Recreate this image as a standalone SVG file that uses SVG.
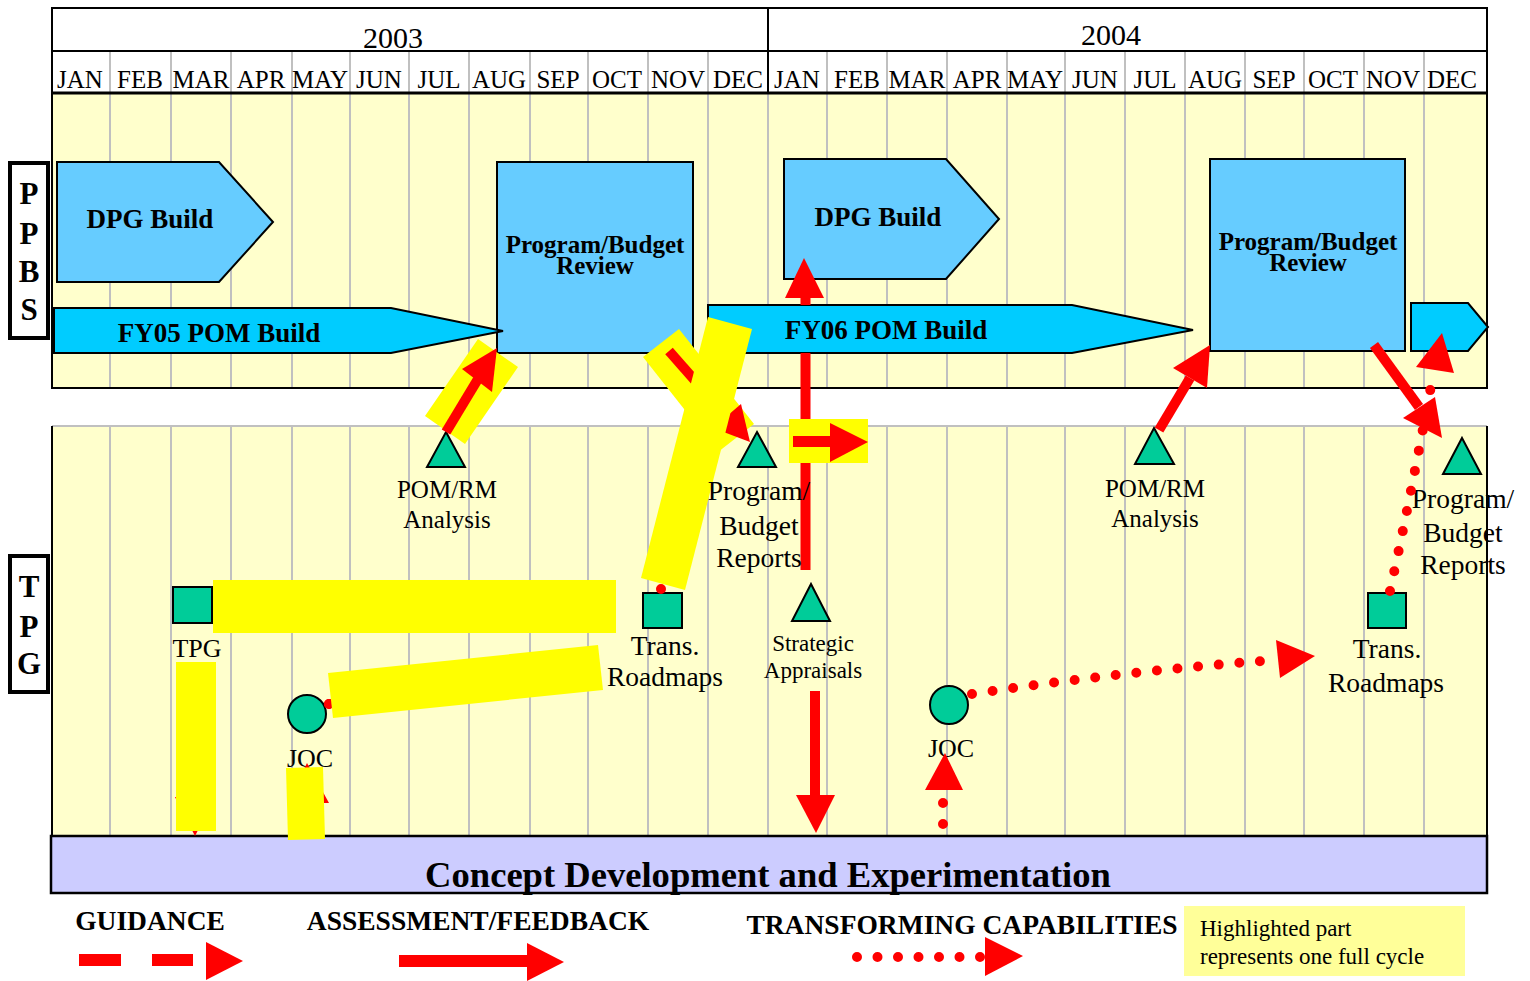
<svg xmlns="http://www.w3.org/2000/svg" width="1530" height="981" viewBox="0 0 1530 981">
<style>
.grid{stroke:#C0C0C0;stroke-width:2}
.blk{stroke:#000;fill:none}
.hdr{font-family:"Liberation Serif","Times New Roman",serif;font-size:25px;text-anchor:middle;fill:#000}
.yr{font-size:30px}
.blue{fill:#66CCFF;stroke:#000;stroke-width:2}
.cyan{fill:#00CCFF;stroke:#000;stroke-width:2}
.grn{fill:#00CC99;stroke:#000;stroke-width:2}
.bt{font-family:"Liberation Serif","Times New Roman",serif;font-weight:bold;text-anchor:middle;fill:#000}
.lbl{font-family:"Liberation Serif","Times New Roman",serif;font-size:27.5px;text-anchor:middle;fill:#000}
.s26{font-size:26px}
.s25{font-size:25px}
.s23{font-size:23px}
.side{font-family:"Liberation Serif","Times New Roman",serif;font-weight:bold;font-size:31px;text-anchor:middle;fill:#000}
.red{fill:#FF0000}
.shaft{stroke:#FF0000;stroke-width:10;fill:none}
.dot{stroke:#FF0000;stroke-width:10;stroke-linecap:round;fill:none}
.dash{stroke:#FF0000;stroke-width:12;stroke-dasharray:40 30;fill:none}
.hl{fill:#FFFF00}
</style>
<rect width="1530" height="981" fill="#FFFFFF"/>
<g id="panels">
<rect x="52" y="93" width="1435" height="295" fill="#FFFFCC"/>
<rect x="52" y="426" width="1435" height="410" fill="#FFFFCC"/>
<g class="grid">
<path d="M110,51V388M171,51V388M231,51V388M292,51V388M350,51V388M409,51V388M469,51V388M530,51V388M588,51V388M648,51V388M708,51V388M768,93V388M827,51V388M887,51V388M947,51V388M1007,51V388M1065,51V388M1125,51V388M1185,51V388M1245,51V388M1304,51V388M1364,51V388M1424,51V388"/>
<path d="M110,426V836M171,426V836M231,426V836M292,426V836M350,426V836M409,426V836M469,426V836M530,426V836M588,426V836M648,426V836M708,426V836M768,426V836M827,426V836M887,426V836M947,426V836M1007,426V836M1065,426V836M1125,426V836M1185,426V836M1245,426V836M1304,426V836M1364,426V836M1424,426V836"/>
<path d="M52,426H1487"/>
</g>
<path class="blk" stroke-width="2" d="M52,8H1487V388H52Z M52,51H1487 M768,8V93 M52,426V836 M1487,426V836"/>
<path class="blk" stroke-width="3" d="M52,93H1487"/>
</g>
<g id="header">
<text class="hdr yr" x="393" y="48">2003</text>
<text class="hdr yr" x="1111" y="45">2004</text>
<text class="hdr" x="80" y="88">JAN</text>
<text class="hdr" x="140" y="88">FEB</text>
<text class="hdr" x="201" y="88">MAR</text>
<text class="hdr" x="261" y="88">APR</text>
<text class="hdr" x="320" y="88">MAY</text>
<text class="hdr" x="379" y="88">JUN</text>
<text class="hdr" x="439" y="88">JUL</text>
<text class="hdr" x="499" y="88">AUG</text>
<text class="hdr" x="558" y="88">SEP</text>
<text class="hdr" x="617" y="88">OCT</text>
<text class="hdr" x="678" y="88">NOV</text>
<text class="hdr" x="738" y="88">DEC</text>
<text class="hdr" x="797" y="88">JAN</text>
<text class="hdr" x="857" y="88">FEB</text>
<text class="hdr" x="917" y="88">MAR</text>
<text class="hdr" x="977" y="88">APR</text>
<text class="hdr" x="1035" y="88">MAY</text>
<text class="hdr" x="1095" y="88">JUN</text>
<text class="hdr" x="1155" y="88">JUL</text>
<text class="hdr" x="1215" y="88">AUG</text>
<text class="hdr" x="1274" y="88">SEP</text>
<text class="hdr" x="1333" y="88">OCT</text>
<text class="hdr" x="1393" y="88">NOV</text>
<text class="hdr" x="1452" y="88">DEC</text>
</g>
<g id="label-ppbs">
<rect x="10" y="163" width="38" height="175" fill="#FFFFFF" stroke="#000" stroke-width="4"/>
<text class="side" x="29" y="204">P</text>
<text class="side" x="29" y="244">P</text>
<text class="side" x="29" y="282">B</text>
<text class="side" x="29" y="320">S</text>
</g>
<g id="label-tpg">
<rect x="10" y="556" width="38" height="136" fill="#FFFFFF" stroke="#000" stroke-width="4"/>
<text class="side" x="29" y="597">T</text>
<text class="side" x="29" y="637">P</text>
<text class="side" x="29" y="674">G</text>
</g>
<g id="dpg-build-1">
<polygon class="blue" points="57,162 219,162 273,222 219,282 57,282"/>
<text class="bt" x="150" y="228" font-size="27">DPG Build</text>
</g>
<g id="pb-review-1">
<rect class="blue" x="497" y="162" width="196" height="191"/>
<text class="bt" x="595" y="253" font-size="25">Program/Budget</text>
<text class="bt" x="595" y="274" font-size="25">Review</text>
</g>
<g id="fy05-pom-build">
<polygon class="cyan" points="54,308 391,308 503,331 391,353 54,353"/>
<text class="bt" x="219" y="342" font-size="27">FY05 POM Build</text>
</g>
<g id="dpg-build-2">
<polygon class="blue" points="784,159 946,159 999,219 946,279 784,279"/>
<text class="bt" x="878" y="226" font-size="27">DPG Build</text>
</g>
<g id="fy06-pom-build">
<polygon class="cyan" points="708,305 1072,305 1193,330 1072,353 708,353"/>
<text class="bt" x="886" y="339" font-size="27">FY06 POM Build</text>
</g>
<g id="pb-review-2">
<rect class="blue" x="1210" y="159" width="195" height="192"/>
<text class="bt" x="1308" y="250" font-size="25">Program/Budget</text>
<text class="bt" x="1308" y="271" font-size="25">Review</text>
</g>
<g id="next-cycle">
<polygon class="cyan" points="1411,303 1468,303 1488,327 1468,351 1411,351"/>
</g>
<g id="tpg">
<rect class="grn" x="173" y="587" width="39" height="36"/>
<text class="lbl s26" x="197" y="657">TPG</text>
</g>
<g id="joc-1">
<circle class="grn" cx="307" cy="714" r="19"/>
<text class="lbl s26" x="310" y="767">JOC</text>
</g>
<g id="pom-rm-1">
<polygon class="grn" points="446,432 465,467 427,467"/>
<text class="lbl s25" x="447" y="498">POM/RM</text>
<text class="lbl s25" x="447" y="528">Analysis</text>
</g>
<g id="trans-roadmaps-1">
<rect class="grn" x="643" y="593" width="39" height="35"/>
<text class="lbl" x="665" y="655">Trans.</text>
<text class="lbl" x="665" y="686">Roadmaps</text>
</g>
<g id="strategic-appraisals">
<polygon class="grn" points="811,584 830,621 792,621"/>
<text class="lbl s23" x="813" y="651">Strategic</text>
<text class="lbl s23" x="813" y="678">Appraisals</text>
</g>
<g id="joc-2">
<circle class="grn" cx="949" cy="705" r="19"/>
<text class="lbl s26" x="951" y="757">JOC</text>
</g>
<g id="pom-rm-2">
<polygon class="grn" points="1154,428 1174,464 1135,464"/>
<text class="lbl s25" x="1155" y="497">POM/RM</text>
<text class="lbl s25" x="1155" y="527">Analysis</text>
</g>
<g id="pb-reports-2">
<polygon class="grn" points="1462,438 1481,474 1443,474"/>
<text class="lbl" x="1463" y="508">Program/</text>
<text class="lbl" x="1463" y="542">Budget</text>
<text class="lbl" x="1463" y="574">Reports</text>
</g>
<g id="trans-roadmaps-2">
<rect class="grn" x="1368" y="593" width="38" height="35"/>
<text class="lbl" x="1387" y="658">Trans.</text>
<text class="lbl" x="1386" y="692">Roadmaps</text>
</g>
<g id="cde">
<rect x="51" y="836" width="1436" height="57" fill="#CCCCFF" stroke="#000" stroke-width="2.5"/>
<text class="bt" x="768" y="887" font-size="36.6">Concept Development and Experimentation</text>
</g>
<g id="connectors">
<!-- transforming capabilities (dotted) -->
<circle class="red" cx="329" cy="704" r="5"/>
<path class="dot" d="M329,704 L595,672" stroke-dasharray="0 20"/>
<path class="dot" d="M661,589 L718,362" stroke-dasharray="0 20"/>
<path class="dot" d="M972,694 Q1120,672 1262,661" stroke-dasharray="0 20.7"/>
<polygon class="red" points="1276,640 1315,656 1280,678"/>
<path class="dot" d="M1390,591 Q1410,500 1431,386" stroke-dasharray="0 20.5"/>
<polygon class="red" points="1416,367 1442,333 1454,373"/>
<path class="dot" d="M943,824 L943,800" stroke-dasharray="0 21"/>
<polygon class="red" points="925,790 945,753 963,790"/>
<!-- guidance (dashed) -->
<path class="dash" d="M195,668 V797"/>
<polygon class="red" points="175,797 215,797 195,836"/>
<path class="dash" d="M307,836 V803"/>
<polygon class="red" points="287,803 329,803 307,763"/>
<!-- assessment/feedback (solid) -->
<path class="shaft" d="M805.5,570 V353 M805.5,305 V296"/>
<polygon class="red" points="785,298 804,258 824,298"/>
<path class="shaft" d="M815,691 V796"/>
<polygon class="red" points="796,795 835,795 816,833"/>
<path class="shaft" d="M1159,430 L1190,378"/>
<polygon class="red" points="1173,368 1210,345 1207,388"/>
<path class="shaft" d="M1374,345 L1419,407"/>
<polygon class="red" points="1403,418 1435,397 1442,438"/>
<!-- highlighted cycle -->
<polygon class="hl" points="478,339 518,367 465,444 425,416"/>
<path class="shaft" d="M446,432 L478,379"/>
<polygon class="red" points="462,369 497,348 492,392"/>
<polygon class="hl" points="643,357 679,329 754,424 718,452"/>
<path class="shaft" d="M669,351 L727,417" stroke-width="11"/>
<polygon class="red" points="741,404 750,442 713,428"/>
<rect class="hl" x="789" y="419" width="79" height="44"/>
<rect class="red" x="793" y="436" width="38" height="11"/>
<polygon class="red" points="830,423 868,442 830,462"/>
<rect class="hl" x="213" y="580" width="403" height="53"/>
<rect class="hl" x="176" y="662" width="40" height="169"/>
<polygon class="hl" points="328,673 598,645 603,690 333,718"/>
<polygon class="hl" points="286,768 323,767 325,839 288,840"/>
<polygon class="hl" points="708,317 752,329 685,590 641,578"/>
</g>
<g id="pb-reports-1">
<polygon class="grn" points="757,432 776,467 738,467"/>
<text class="lbl" x="759" y="500">Program/</text>
<text class="lbl" x="759" y="535">Budget</text>
<text class="lbl" x="759" y="567">Reports</text>
</g>
<g id="legend">
<text class="bt" x="150" y="930" font-size="27.5">GUIDANCE</text>
<text class="bt" x="478" y="930" font-size="27.5">ASSESSMENT/FEEDBACK</text>
<text class="bt" x="962" y="934" font-size="27.5">TRANSFORMING CAPABILITIES</text>
<rect class="red" x="79" y="954" width="42" height="12"/>
<rect class="red" x="152" y="954" width="41" height="12"/>
<polygon class="red" points="206,942 243,961 206,980"/>
<rect class="red" x="399" y="955" width="130" height="12"/>
<polygon class="red" points="527,943 564,962 527,981"/>
<path class="dot" d="M857,957 H986" stroke-dasharray="0 20.5"/>
<polygon class="red" points="985,937 1023,956 985,976"/>
<rect x="1184" y="906" width="281" height="70" fill="#FFFF99"/>
<text x="1200" y="936" font-family="'Liberation Serif','Times New Roman',serif" font-size="23">Highlighted part</text>
<text x="1200" y="964" font-family="'Liberation Serif','Times New Roman',serif" font-size="23">represents one full cycle</text>
</g>
</svg>
